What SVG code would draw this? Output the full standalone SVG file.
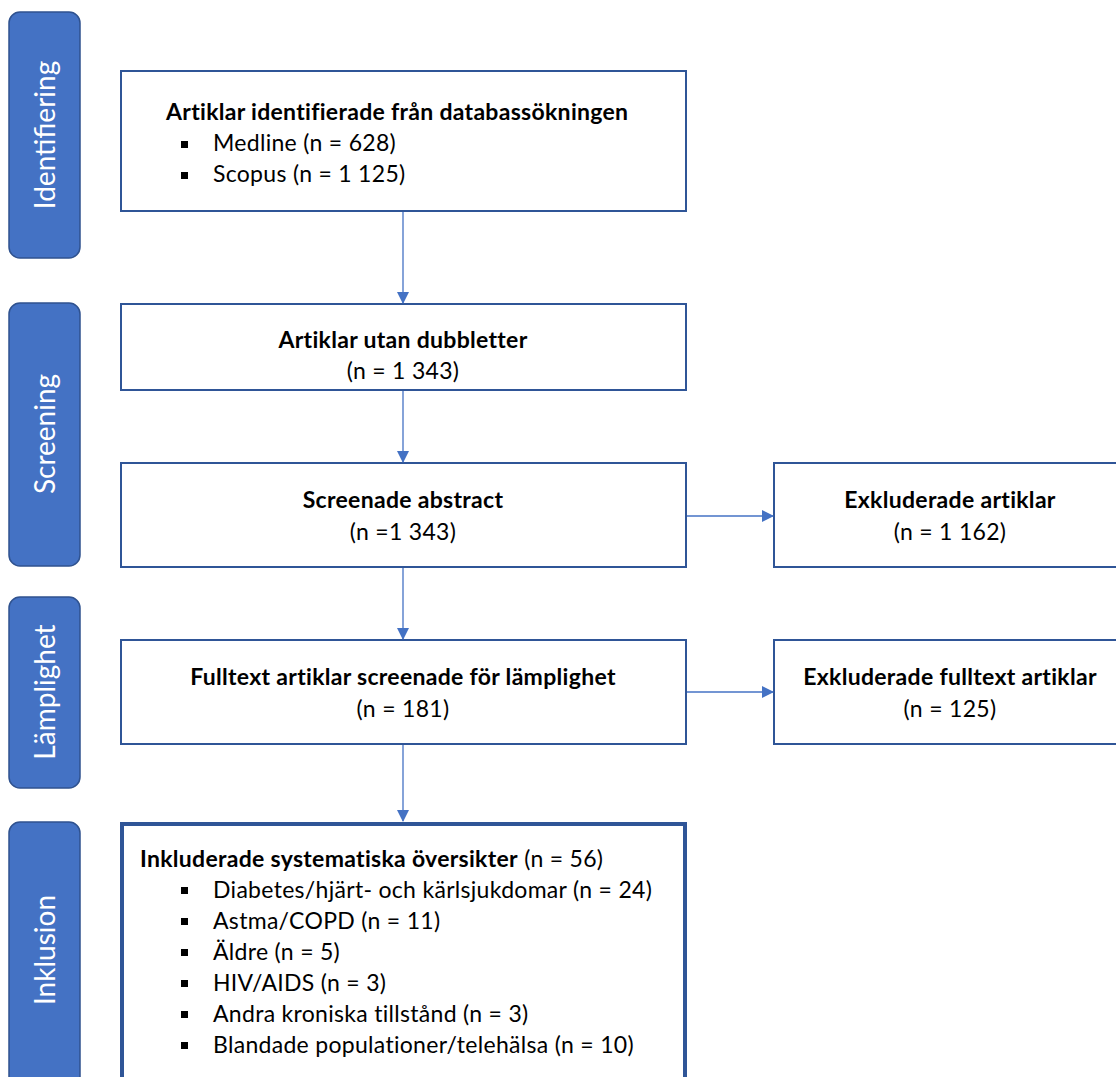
<svg xmlns="http://www.w3.org/2000/svg" width="1116" height="1077" viewBox="0 0 1116 1077">
<defs>
<marker id="ah" markerWidth="12" markerHeight="12" refX="11" refY="6" orient="auto" markerUnits="userSpaceOnUse" viewBox="0 0 12 12">
<path d="M0,0 L12,6 L0,12 Z" fill="#4472C4"/>
</marker>
</defs>
<style>
.side{fill:#4472C4;stroke:#2F528F;stroke-width:1.5}
.sidet{fill:#fff;font-family:Lato,"Open Sans",sans-serif;font-size:28px;text-anchor:middle}
.box{fill:#fff;stroke:#2F5597;stroke-width:2}
.t{font-family:Lato,"Liberation Sans",sans-serif;font-size:23px;letter-spacing:0.3px;fill:#000}
.b{font-weight:bold}
.c{text-anchor:middle}
.conn{stroke:#4472C4;stroke-width:1.3;fill:none;marker-end:url(#ah)}
</style>
<g id="side-identifiering"><rect class="side" x="9" y="12" width="71" height="246" rx="11"/><text class="sidet" transform="translate(55,135) rotate(-90)">Identifiering</text></g>
<g id="side-screening"><rect class="side" x="9" y="303" width="71" height="263" rx="11"/><text class="sidet" transform="translate(55,434) rotate(-90)">Screening</text></g>
<g id="side-lamplighet"><rect class="side" x="9" y="597" width="71" height="191" rx="11"/><text class="sidet" transform="translate(55,692) rotate(-90)">Lämplighet</text></g>
<g id="side-inklusion"><rect class="side" x="9" y="822" width="71" height="270" rx="11"/><text class="sidet" transform="translate(55,950) rotate(-90)">Inklusion</text></g>

<g id="n1"><rect class="box" x="121" y="71" width="565" height="140"/>
<text class="t b" x="166" y="120">Artiklar identifierade från databassökningen</text>
<rect x="181" y="141" width="7" height="7"/><text class="t" x="213" y="151">Medline (n = 628)</text>
<rect x="181" y="172" width="7" height="7"/><text class="t" x="213" y="182">Scopus (n = 1 125)</text>
</g>
<g id="n2"><rect class="box" x="121" y="304" width="565" height="86"/>
<text class="t b c" x="403" y="348">Artiklar utan dubbletter</text>
<text class="t c" x="403" y="379">(n = 1 343)</text></g>
<g id="n3"><rect class="box" x="121" y="463" width="565" height="104"/>
<text class="t b c" x="403" y="508">Screenade abstract</text>
<text class="t c" x="403" y="540">(n =1 343)</text></g>
<g id="n4"><rect class="box" x="774" y="463" width="360" height="104"/>
<text class="t b c" x="950" y="508">Exkluderade artiklar</text>
<text class="t c" x="950" y="540">(n = 1 162)</text></g>
<g id="n5"><rect class="box" x="121" y="640" width="565" height="104"/>
<text class="t b c" x="403" y="685">Fulltext artiklar screenade för lämplighet</text>
<text class="t c" x="403" y="717">(n = 181)</text></g>
<g id="n6"><rect class="box" x="774" y="640" width="360" height="104"/>
<text class="t b c" x="950" y="685">Exkluderade fulltext artiklar</text>
<text class="t c" x="950" y="717">(n = 125)</text></g>
<g id="n7"><rect x="122" y="824" width="563" height="270" fill="#fff" stroke="#2F5597" stroke-width="4"/>
<text class="t" x="140" y="867"><tspan class="b">Inkluderade systematiska översikter</tspan> (n = 56)</text>
<rect x="181" y="887" width="7" height="7"/><text class="t" x="213" y="898">Diabetes/hjärt- och kärlsjukdomar (n = 24)</text>
<rect x="181" y="918" width="7" height="7"/><text class="t" x="213" y="929">Astma/COPD (n = 11)</text>
<rect x="181" y="949" width="7" height="7"/><text class="t" x="213" y="960">Äldre (n = 5)</text>
<rect x="181" y="980" width="7" height="7"/><text class="t" x="213" y="991">HIV/AIDS (n = 3)</text>
<rect x="181" y="1011" width="7" height="7"/><text class="t" x="213" y="1022">Andra kroniska tillstånd (n = 3)</text>
<rect x="181" y="1042" width="7" height="7"/><text class="t" x="213" y="1053">Blandade populationer/telehälsa (n = 10)</text>
</g>
<g id="connectors">
<line class="conn" x1="403" y1="212" x2="403" y2="303"/>
<line class="conn" x1="403" y1="391" x2="403" y2="462"/>
<line class="conn" x1="403" y1="568" x2="403" y2="639"/>
<line class="conn" x1="403" y1="745" x2="403" y2="821"/>
<line class="conn" x1="687" y1="516" x2="773" y2="516"/>
<line class="conn" x1="687" y1="692" x2="773" y2="692"/>
</g>
</svg>
